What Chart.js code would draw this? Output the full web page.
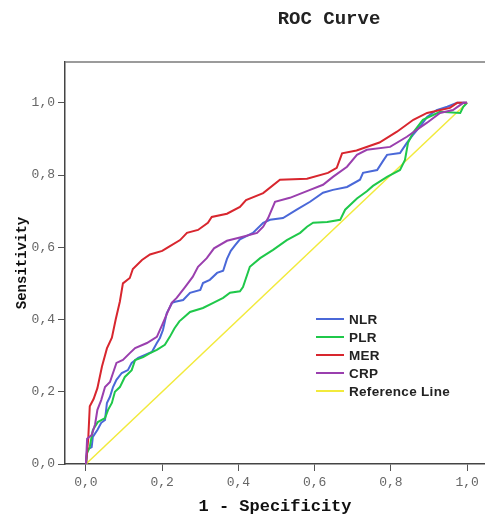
<!DOCTYPE html>
<html>
<head>
<meta charset="utf-8">
<script src="https://cdn.jsdelivr.net/npm/chart.js@4/dist/chart.umd.min.js"></script>
<style>
  body { margin: 0; background: #fff; }
  #wrap { position: relative; width: 485px; height: 515px; }
  #title {
    position: absolute; left: 229px; top: 8px; width: 200px;
    text-align: center; font: bold 19px "Liberation Mono", monospace; color: #222;
  }
  #legend {
    position: absolute; left: 316px; top: 310px;
    font: bold 13.5px "Liberation Sans", Arial, sans-serif; color: #222; letter-spacing: 0.3px;
  }
  #legend .row { height: 18px; display: flex; align-items: center; }
  #legend .sw { width: 28px; height: 2px; margin-right: 5px; }
</style>
</head>
<body>
<div id="wrap">
  <canvas id="chart" width="485" height="515"></canvas>
  <div id="title">ROC Curve</div>
  <div id="legend"></div>
</div>
<script>
// Axis ticks
const tickValues = [0, 0.2, 0.4, 0.6, 0.8, 1.0];

// ROC points: [1 - specificity, sensitivity]
const nlrRoc = [[0,0],[0.003,0.04],[0.015,0.047],[0.018,0.075],[0.03,0.094],[0.04,0.114],[0.05,0.122],[0.055,0.169],
  [0.063,0.186],[0.071,0.213],[0.08,0.233],[0.094,0.252],[0.11,0.26],[0.12,0.28],[0.137,0.294],[0.155,0.302],
  [0.173,0.31],[0.186,0.335],[0.194,0.349],[0.202,0.371],[0.212,0.418],[0.226,0.446],[0.234,0.449],[0.255,0.454],
  [0.273,0.474],[0.3,0.482],[0.307,0.501],[0.325,0.51],[0.344,0.529],[0.36,0.535],[0.37,0.568],[0.38,0.59],
  [0.391,0.605],[0.404,0.622],[0.438,0.64],[0.465,0.668],[0.483,0.676],[0.517,0.681],[0.553,0.704],[0.588,0.726],
  [0.622,0.751],[0.648,0.759],[0.685,0.767],[0.719,0.787],[0.727,0.806],[0.764,0.814],[0.78,0.84],[0.79,0.856],
  [0.824,0.861],[0.842,0.889],[0.858,0.911],[0.88,0.939],[0.895,0.961],[0.92,0.98],[0.948,0.989],[0.974,1],[1,1]];

const plrRoc = [[0,0],[0.003,0.03],[0.01,0.047],[0.018,0.094],[0.031,0.116],[0.05,0.127],[0.058,0.15],[0.068,0.169],
  [0.076,0.2],[0.089,0.213],[0.102,0.241],[0.12,0.26],[0.129,0.288],[0.15,0.296],[0.168,0.307],[0.186,0.316],
  [0.207,0.33],[0.22,0.352],[0.232,0.375],[0.245,0.395],[0.258,0.407],[0.273,0.421],[0.307,0.432],[0.334,0.446],
  [0.36,0.46],[0.378,0.474],[0.404,0.478],[0.412,0.49],[0.43,0.546],[0.457,0.57],[0.491,0.593],[0.527,0.62],
  [0.562,0.64],[0.58,0.657],[0.596,0.668],[0.633,0.67],[0.667,0.676],[0.68,0.704],[0.711,0.735],[0.737,0.755],
  [0.753,0.77],[0.79,0.795],[0.824,0.814],[0.837,0.842],[0.845,0.889],[0.858,0.917],[0.884,0.953],[0.929,0.975],
  [0.982,0.972],[0.99,0.989],[1,1]];

const merRoc = [[0,0],[0.006,0.07],[0.01,0.16],[0.02,0.18],[0.03,0.21],[0.042,0.27],[0.055,0.32],[0.068,0.35],
  [0.078,0.4],[0.089,0.45],[0.097,0.5],[0.115,0.515],[0.123,0.54],[0.147,0.565],[0.168,0.58],[0.2,0.59],
  [0.215,0.6],[0.247,0.62],[0.265,0.64],[0.294,0.648],[0.32,0.668],[0.33,0.684],[0.37,0.693],[0.404,0.712],
  [0.42,0.731],[0.465,0.75],[0.509,0.787],[0.58,0.79],[0.635,0.806],[0.658,0.82],[0.672,0.86],[0.71,0.868],
  [0.77,0.89],[0.816,0.92],[0.859,0.953],[0.895,0.972],[0.955,0.986],[0.974,1],[1,1]];

const crpRoc = [[0,0],[0.003,0.07],[0.015,0.08],[0.024,0.11],[0.03,0.15],[0.04,0.177],[0.05,0.213],[0.063,0.227],
  [0.071,0.252],[0.08,0.28],[0.097,0.288],[0.115,0.307],[0.129,0.321],[0.16,0.335],[0.186,0.352],[0.2,0.385],
  [0.212,0.415],[0.225,0.446],[0.238,0.46],[0.26,0.49],[0.28,0.518],[0.294,0.546],[0.317,0.57],[0.336,0.597],
  [0.37,0.618],[0.404,0.627],[0.449,0.64],[0.465,0.657],[0.478,0.681],[0.496,0.726],[0.535,0.737],[0.588,0.759],
  [0.622,0.773],[0.648,0.795],[0.685,0.823],[0.711,0.856],[0.737,0.87],[0.798,0.878],[0.842,0.906],[0.895,0.945],
  [0.929,0.972],[0.963,0.98],[0.99,1],[1,1]];

const refLine = [[0,0],[1,1]];

const seriesNames = ['NLR', 'PLR', 'MER', 'CRP', 'Reference Line'];
const seriesData = [nlrRoc, plrRoc, merRoc, crpRoc, refLine];
const seriesColors = ['#4a68d8', '#1fc84a', '#d8262e', '#9a3fae', '#f2ea3c'];
const drawOrder = [4, 3, 2, 1, 5]; // lower draws on top

const commaFmt = v => v.toFixed(1).replace('.', ',');

// top border of the frame
const frameTop = {
    id: 'frameTop',
    afterDraw(chart) {
        const { ctx, chartArea } = chart;
        ctx.save();
        ctx.strokeStyle = '#7a7a7a';
        ctx.lineWidth = 1.5;
        ctx.beginPath();
        ctx.moveTo(chartArea.left, chartArea.top);
        ctx.lineTo(chartArea.right, chartArea.top);
        ctx.stroke();
        ctx.restore();
    }
};

const datasets = seriesNames.map((name, i) => ({
    label: name,
    data: seriesData[i].map(p => ({ x: p[0], y: p[1] })),
    borderColor: seriesColors[i],
    backgroundColor: seriesColors[i],
    borderWidth: i === 4 ? 1.5 : 2,
    pointRadius: 0,
    tension: 0,
    fill: false,
    order: drawOrder[i]
}));

const axisTickFont = { family: '"Liberation Mono", monospace', size: 13 };

new Chart(document.getElementById('chart'), {
    type: 'line',
    data: { datasets },
    options: {
        responsive: false,
        animation: false,
        layout: { padding: { top: 62, left: 0, right: 0, bottom: 0 } },
        plugins: {
            legend: { display: false },
            tooltip: { enabled: false }
        },
        scales: {
            x: {
                type: 'linear',
                min: -0.055,
                max: 1.047,
                afterBuildTicks: s => { s.ticks = tickValues.map(v => ({ value: v })); },
                afterFit: s => { s.height = 51; },
                grid: { drawOnChartArea: false, drawTicks: true, tickLength: 7, color: '#555', tickColor: '#555' },
                border: { display: true, color: '#444', width: 1.5 },
                ticks: { padding: 4, color: '#666', font: axisTickFont, callback: v => commaFmt(v), maxRotation: 0 },
                title: {
                    display: true,
                    text: '1 - Specificity',
                    color: '#111',
                    font: { family: '"Liberation Mono", monospace', size: 17, weight: 'bold', lineHeight: 1 },
                    padding: { top: 0, bottom: 0 }
                }
            },
            y: {
                type: 'linear',
                min: 0,
                max: 1.113,
                afterBuildTicks: s => { s.ticks = tickValues.map(v => ({ value: v })); },
                afterFit: s => { s.width = 65; },
                grid: { drawOnChartArea: false, drawTicks: true, tickLength: 7, color: '#555', tickColor: '#555' },
                border: { display: true, color: '#444', width: 1.5 },
                ticks: { padding: 3, color: '#666', font: axisTickFont, callback: v => commaFmt(v) },
                title: {
                    display: true,
                    text: 'Sensitivity',
                    color: '#111',
                    font: { family: '"Liberation Mono", monospace', size: 14, weight: 'bold', lineHeight: 1 },
                    padding: { top: 15, bottom: 0 }
                }
            }
        }
    },
    plugins: [frameTop]
});

// legend inside the plot
const legendEl = document.getElementById('legend');
seriesNames.forEach((name, i) => {
    const row = document.createElement('div');
    row.className = 'row';
    const sw = document.createElement('span');
    sw.className = 'sw';
    sw.style.background = seriesColors[i];
    const txt = document.createElement('span');
    txt.textContent = name;
    row.appendChild(sw);
    row.appendChild(txt);
    legendEl.appendChild(row);
});
</script>
</body>
</html>
